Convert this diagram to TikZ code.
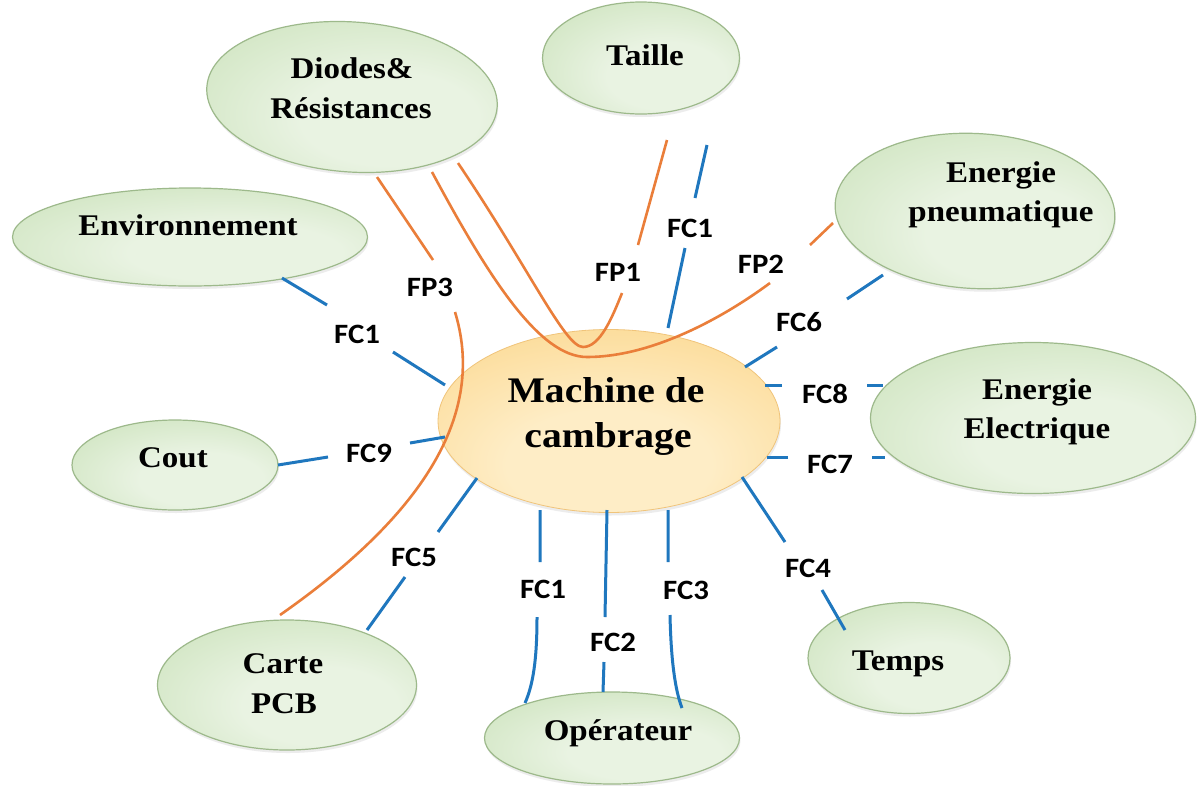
\documentclass[tikz,border=0pt]{standalone}
\usepackage{fontspec}
\setmainfont{Liberation Serif}
\newfontfamily\labfont{Liberation Serif}[FakeStretch=1.1]
\newfontfamily\fcfont{Carlito}[FakeStretch=1.1]
\usetikzlibrary{shapes.geometric,shadows}
\definecolor{gIn}{HTML}{E9F3E2}
\definecolor{gMid}{HTML}{D2E6C4}
\definecolor{gOut}{HTML}{B2D29B}
\definecolor{gLine}{HTML}{9DB98B}
\definecolor{oIn}{HTML}{FEEDC6}
\definecolor{oMid}{HTML}{FCDC9A}
\definecolor{oOut}{HTML}{F8C567}
\definecolor{oLine}{HTML}{F0C47A}
\definecolor{fcblue}{HTML}{1F77BE}
\definecolor{fporange}{HTML}{EA7E3A}
\pgfdeclareradialshading{greensh}{\pgfpoint{8bp}{-10bp}}{color(0bp)=(gIn); color(15bp)=(gIn); color(35bp)=(gMid); color(50bp)=(gOut); color(75bp)=(gOut)}
\pgfdeclareradialshading{orangesh}{\pgfpoint{0bp}{-15bp}}{color(0bp)=(oIn); color(15bp)=(oIn); color(35bp)=(oMid); color(50bp)=(oOut); color(75bp)=(oOut)}
\begin{document}
\begin{tikzpicture}[x=1pt,y=-1pt,
  gell/.style={ellipse, draw=gLine, line width=1.2pt, shade, shading=greensh, inner sep=0pt,
    drop shadow={shadow xshift=1pt, shadow yshift=-3pt, opacity=0.15}},
  oell/.style={ellipse, draw=oLine, line width=0.8pt, shade, shading=orangesh, inner sep=0pt,
    drop shadow={shadow xshift=1pt, shadow yshift=-3pt, opacity=0.15}},
  lab/.style={font=\labfont\bfseries\fontsize{30}{36}\selectfont, inner sep=0pt, anchor=base},
  biglab/.style={font=\labfont\bfseries\fontsize{36}{43}\selectfont, inner sep=0pt, anchor=base},
  fclab/.style={font=\fcfont\bfseries\fontsize{28}{30}\selectfont, inner sep=0pt},
  fc/.style={draw=fcblue, line width=3pt},
  fp/.style={draw=fporange, line width=2.6pt}]
\useasboundingbox (0,0) rectangle (1204,785);
\fill[white] (0,0) rectangle (1204,785);

% ellipses
\node[gell, minimum width=291pt, minimum height=150pt, rotate=-4] (diodes) at (352,97) {};
\node[gell, minimum width=197pt, minimum height=112pt] (taille) at (641,58) {};
\node[gell, minimum width=280pt, minimum height=155pt, rotate=-3] (pneu) at (975,211) {};
\node[gell, minimum width=355pt, minimum height=98pt] (env) at (190,237) {};
\node[gell, minimum width=206pt, minimum height=90pt] (cout) at (175,465) {};
\node[gell, minimum width=325pt, minimum height=151pt] (elec) at (1033,418) {};
\node[gell, minimum width=259pt, minimum height=130pt] (carte) at (287,685) {};
\node[gell, minimum width=255pt, minimum height=92pt] (oper) at (612,738) {};
\node[gell, minimum width=202pt, minimum height=111pt] (temps) at (909,658) {};
\node[oell, minimum width=342pt, minimum height=183pt] (mc) at (609,421) {};

% texts
\node[lab] (tdio1) at (352,78) {Diodes\&};
\node[lab] (tdio2) at (351,118) {Résistances};
\node[lab] (ttai) at (645,65) {Taille};
\node[lab] (tpn1) at (1001,182) {Energie};
\node[lab] (tpn2) at (1001,221) {pneumatique};
\node[lab] (tenv) at (188,235) {Environnement};
\node[lab] (tcout) at (173,467) {Cout};
\node[lab] (tel1) at (1037,399) {Energie};
\node[lab] (tel2) at (1037,438) {Electrique};
\node[lab] (tca1) at (283,673) {Carte};
\node[lab] (tca2) at (284,713) {PCB};
\node[lab] (top) at (618,740) {Opérateur};
\node[lab] (ttem) at (898,670) {Temps};
\node[biglab] (tmc1) at (606,402) {Machine de};
\node[biglab] (tmc2) at (608,447) {cambrage};

% connector end points
\coordinate (a1) at (282,278); \coordinate (a2) at (327,305); \coordinate (a3) at (393,352); \coordinate (a4) at (445,385);
\coordinate (b1) at (278,465); \coordinate (b2) at (328,457); \coordinate (b3) at (410,443); \coordinate (b4) at (445,437);
\coordinate (c1) at (367,630); \coordinate (c2) at (405,577); \coordinate (c3) at (438,532); \coordinate (c4) at (477,478);
\coordinate (d1) at (707,145); \coordinate (d2) at (695,198); \coordinate (d3) at (685,248); \coordinate (d4) at (668,328);
\coordinate (e1) at (883,275); \coordinate (e2) at (847,299); \coordinate (e3) at (777,347); \coordinate (e4) at (745,367);
\coordinate (f1) at (883,385); \coordinate (f2) at (867,385); \coordinate (f3) at (782,385); \coordinate (f4) at (765,385);
\coordinate (g1) at (885,457); \coordinate (g2) at (872,457); \coordinate (g3) at (788,457); \coordinate (g4) at (767,457);
\coordinate (h1) at (742,477); \coordinate (h2) at (785,542); \coordinate (h3) at (822,590); \coordinate (h4) at (845,630);
\coordinate (i1) at (540,510); \coordinate (i2) at (540,562); \coordinate (i3) at (537,617); \coordinate (i4) at (525,703);
\coordinate (j1) at (607,510); \coordinate (j2) at (605,617); \coordinate (j3) at (604,662); \coordinate (j4) at (603,692);
\coordinate (k1) at (668,510); \coordinate (k2) at (668,562); \coordinate (k3) at (670,615); \coordinate (k4) at (682,708);
\coordinate (p1) at (377,177); \coordinate (p2) at (433,260); \coordinate (p3) at (455,312); \coordinate (p4) at (280,615);
\coordinate (q1) at (458,163); \coordinate (q2) at (583,347); \coordinate (q3) at (622,293); \coordinate (q4) at (638,245); \coordinate (q5) at (667,140);
\coordinate (r1) at (432,172); \coordinate (r2) at (587,357); \coordinate (r3) at (770,283); \coordinate (r4) at (810,245); \coordinate (r5) at (833,223);

% blue connectors
\draw[fc] (a1) -- (a2) (a3) -- (a4);
\draw[fc] (b1) -- (b2) (b3) -- (b4);
\draw[fc] (c1) -- (c2) (c3) -- (c4);
\draw[fc] (d1) -- (d2) (d3) -- (d4);
\draw[fc] (e1) -- (e2) (e3) -- (e4);
\draw[fc] (f1) -- (f2) (f3) -- (f4);
\draw[fc] (g1) -- (g2) (g3) -- (g4);
\draw[fc] (h1) -- (h2) (h3) -- (h4);
\draw[fc] (i1) -- (i2) (i3) .. controls (537,660) and (533,685) .. (i4);
\draw[fc] (j1) -- (j2) (j3) -- (j4);
\draw[fc] (k1) -- (k2) (k3) .. controls (671,660) and (675,690) .. (k4);

% orange connectors
\draw[fp] (p1) -- (p2) (p3) .. controls (485,410) and (430,510) .. (p4);
\draw[fp] (q1) .. controls (530,270) and (565,347) .. (q2) .. controls (600,347) and (612,318) .. (q3) (q4) -- (q5);
\draw[fp] (r1) .. controls (490,280) and (540,357) .. (r2) .. controls (650,357) and (720,320) .. (r3) (r4) -- (r5);

% connector labels
\node[fclab] (l1) at (357,334) {FC1};
\node[fclab] (l2) at (430,287) {FP3};
\node[fclab] (l3) at (369,453) {FC9};
\node[fclab] (l4) at (414,557) {FC5};
\node[fclab] (l5) at (618,272) {FP1};
\node[fclab] (l6) at (690,228) {FC1};
\node[fclab] (l7) at (761,264) {FP2};
\node[fclab] (l8) at (799,322) {FC6};
\node[fclab] (l9) at (825,394) {FC8};
\node[fclab] (l10) at (830,464) {FC7};
\node[fclab] (l11) at (808,568) {FC4};
\node[fclab] (l12) at (543,589) {FC1};
\node[fclab] (l13) at (613,642) {FC2};
\node[fclab] (l14) at (686,590) {FC3};
\end{tikzpicture}
\end{document}
